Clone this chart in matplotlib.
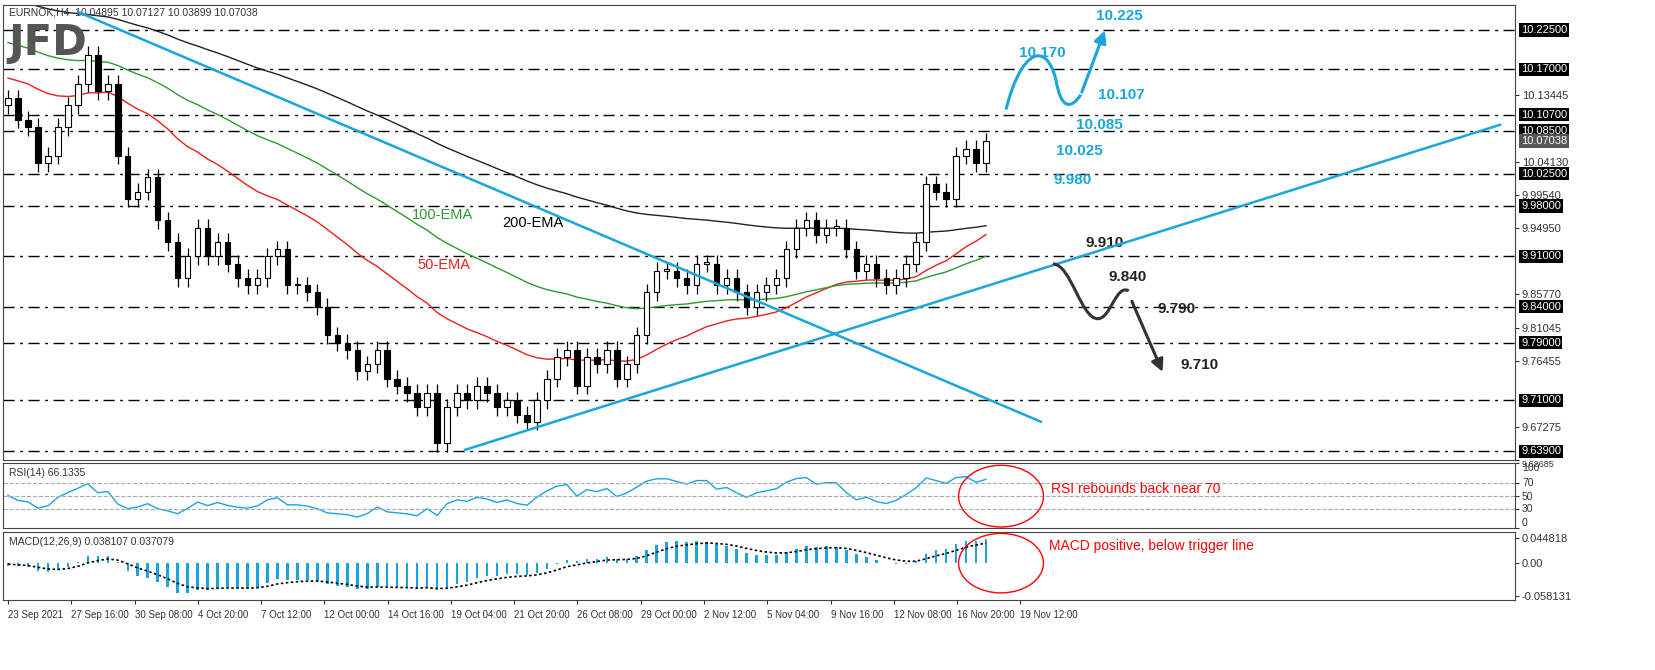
import numpy as np
import matplotlib
matplotlib.use("Agg")
import matplotlib.pyplot as plt
from matplotlib.patches import Ellipse, PathPatch
from matplotlib.path import Path
import matplotlib.transforms as mtrans

closes = [10.13,10.10,10.09,10.04,10.05,10.09,10.12,10.15,10.19,10.14,10.15,10.05,9.99,10.00,10.02,9.96,9.93,9.88,9.91,9.95,
          9.91,9.93,9.90,9.88,9.87,9.88,9.91,9.92,9.87,9.87,9.86,9.84,9.80,9.79,9.78,9.75,9.76,9.78,9.74,9.73,
          9.72,9.70,9.72,9.65,9.70,9.72,9.71,9.73,9.72,9.70,9.71,9.69,9.68,9.71,9.74,9.77,9.78,9.73,9.77,9.76,
          9.78,9.74,9.76,9.80,9.86,9.89,9.89,9.88,9.87,9.90,9.90,9.87,9.88,9.86,9.84,9.86,9.87,9.88,9.92,9.95,
          9.96,9.94,9.95,9.95,9.92,9.89,9.90,9.88,9.87,9.88,9.90,9.93,10.01,10.00,9.99,10.05,10.06,10.04,10.07]
open0 = 10.12
wick = 0.012
ema_spans = {"50": 29, "100": 57, "200": 115}
ema_init = {"50": 10.16, "100": 10.21, "200": 10.27}
ema_colors = {"50": "#e8201c", "100": "#2e9a2e", "200": "#222222"}

levels = [10.225, 10.17, 10.107, 10.085, 10.025, 9.98, 9.91, 9.84, 9.79, 9.71, 9.639]
plain_ticks = [10.13445, 10.04130, 9.99540, 9.94950, 9.85770, 9.81045, 9.76455, 9.67275, 9.62685]
last_price = 10.07038
date_labels = ["23 Sep 2021","27 Sep 16:00","30 Sep 08:00","4 Oct 20:00","7 Oct 12:00","12 Oct 00:00",
               "14 Oct 16:00","19 Oct 04:00","21 Oct 20:00","26 Oct 08:00","29 Oct 00:00","2 Nov 12:00",
               "5 Nov 04:00","9 Nov 16:00","12 Nov 08:00","16 Nov 20:00","19 Nov 12:00"]
down_tl_x = [7, 103.5]; down_tl_y = [10.25, 9.68]
up_tl_x = [45.8, 149.5]; up_tl_y = [9.641, 10.093]

closes = np.array(closes)
n = len(closes)
x = np.arange(n)
opens = np.r_[open0, closes[:-1]]
highs = np.maximum(opens, closes) + wick
lows = np.minimum(opens, closes) - wick

def ema(arr, span, init=None):
    a = 2/(span+1); out = []; v = arr[0] if init is None else init
    for c in arr:
        v = a*c + (1-a)*v; out.append(v)
    return np.array(out)

plt.rcParams['font.family'] = ['Liberation Sans', 'DejaVu Sans']
W, H = 1655, 670
fig = plt.figure(figsize=(16.55, 6.70), dpi=100)
def axrect(l, t, r, b):
    return [l/W, 1-b/H, (r-l)/W, (b-t)/H]
ax = fig.add_axes(axrect(3, 5, 1515, 460))
ar = fig.add_axes(axrect(3, 463, 1515, 528), sharex=ax)
am = fig.add_axes(axrect(3, 532, 1515, 600), sharex=ax)
CY = "#1aa6dc"

for i in range(n):
    ax.vlines(x[i], lows[i], highs[i], color="black", lw=0.9, zorder=3)
    up = closes[i] >= opens[i]
    b0 = min(opens[i], closes[i]); h = max(abs(closes[i]-opens[i]), 0.002)
    ax.bar(x[i], h, bottom=b0, width=0.55, color="white" if up else "black", edgecolor="black", lw=0.8, zorder=4)
for k in ema_spans:
    ax.plot(x, ema(closes, ema_spans[k], ema_init[k]), color=ema_colors[k], lw=1, zorder=2)
ax.plot(down_tl_x, down_tl_y, color=CY, lw=1.8, zorder=5)
ax.plot(up_tl_x, up_tl_y, color=CY, lw=1.8, zorder=5)
for lv in levels:
    ax.axhline(lv, color="black", lw=1, ls=(0, (8, 4, 2, 4)), zorder=1)

ax.set_xlim(-0.5, 151)
ax.set_ylim(9.6293, 10.2596)
ax.yaxis.tick_right()
ax.set_yticks(plain_ticks)
ax.set_yticklabels([f"{t:.5f}" for t in plain_ticks])
ax.tick_params(axis="y", labelsize=8, colors="#333333", length=3, pad=2)
ax.tick_params(axis="x", bottom=False, labelbottom=False)
lbl = ax.get_yticklabels()[-1]; lbl.set_va("top"); lbl.set_fontsize(6.5)
tr = mtrans.blended_transform_factory(ax.transAxes, ax.transData)
for lv in levels:
    ax.text(1.004, lv, f"{lv:.5f}", transform=tr, fontsize=8, color="white", va="center", ha="left",
            bbox=dict(boxstyle="square,pad=0.15", fc="black", ec="none"), zorder=10)
ax.text(1.004, last_price, f"{last_price:.5f}", transform=tr, fontsize=8, color="white", va="center", ha="left",
        bbox=dict(boxstyle="square,pad=0.15", fc="#555555", ec="none"), zorder=10)

def P(px, py):
    return ((px-5)/10, 10.225-(py-30)/722)
bold = dict(fontsize=11, fontweight="bold")
for t, (px, py) in {"10.225": (1095, 20), "10.170": (1018, 57), "10.107": (1097, 99), "10.085": (1075, 130),
                    "10.025": (1055, 156), "9.980": (1053, 185)}.items():
    ax.text(*P(px, py), t, color=CY, **bold)
for t, (px, py) in {"9.910": (1085, 248), "9.840": (1108, 282), "9.790": (1157, 314), "9.710": (1180, 370)}.items():
    ax.text(*P(px, py), t, color="#222222", **bold)
ax.text(*P(410, 220), "100-EMA", color="#2e9a2e", fontsize=10.5)
ax.text(*P(500, 228), "200-EMA", color="black", fontsize=10.5)
ax.text(*P(415, 270), "50-EMA", color="#e8201c", fontsize=10.5)
ax.text(0.004, 0.995, "EURNOK,H4  10.04895 10.07127 10.03899 10.07038", transform=ax.transAxes, fontsize=7.5,
        va="top", color="#333333")
fig.text(8/W, 1-55/H, "JFD", fontsize=30, fontweight="bold", color="#555555", family="DejaVu Sans")

def curve(pts, color):
    verts = [P(*p) for p in pts]
    codes = [Path.MOVETO] + [Path.CURVE4]*(len(verts)-1)
    ax.add_patch(PathPatch(Path(verts, codes), fc="none", ec=color, lw=2.2, zorder=6))
curve([(1005, 110), (1020, 50), (1045, 40), (1055, 80), (1060, 110), (1070, 110), (1080, 95)], CY)
ax.annotate("", xy=P(1105, 28), xytext=P(1080, 95), arrowprops=dict(arrowstyle="-|>", color=CY, lw=2.2, mutation_scale=18))
curve([(1052, 265), (1070, 265), (1080, 320), (1097, 320), (1110, 320), (1115, 285), (1128, 292)], "#333333")
ax.annotate("", xy=P(1163, 376), xytext=P(1130, 300), arrowprops=dict(arrowstyle="-|>", color="#333333", lw=2.2, mutation_scale=18))

d = np.diff(closes, prepend=closes[0])
g = ema(np.clip(d, 0, None), 14, 0.015); l = ema(np.clip(-d, 0, None), 14, 0.015)
rsi = 100 - 100/(1+g/np.maximum(l, 1e-9))
ar.plot(x, rsi, color=CY, lw=1)
for lv in [30, 50, 70]:
    ar.axhline(lv, color="#aaaaaa", lw=0.8, ls="--")
ar.set_ylim(0, 100)
ar.yaxis.tick_right(); ar.set_yticks([0, 30, 50, 70, 100])
ar.tick_params(axis="y", labelsize=7.5, colors="#333333", length=3, pad=2)
ar.tick_params(axis="x", bottom=False, labelbottom=False)
ar.get_yticklabels()[-1].set_va("top")
ar.get_yticklabels()[0].set_va("bottom")
ar.text(0.004, 0.93, "RSI(14) 66.1335", transform=ar.transAxes, fontsize=7.5, va="top", color="#333333")
ar.add_patch(Ellipse(((1000-5)/10, 49), 8.5, 95, fc="none", ec="red", lw=1, clip_on=False, zorder=10))
ar.text((1050-5)/10, 60, "RSI rebounds back near 70", color="red", fontsize=10, va="center")

macd = ema(closes, 7, closes[0]-0.03) - ema(closes, 15, closes[0]-0.02)
sig = ema(macd, 5, 0.0)
am.bar(x, macd, width=0.25, color=CY)
am.plot(x, sig, color="black", lw=1.2, ls=(0, (1.5, 1.5)))
am.set_ylim(-0.065, 0.055)
am.yaxis.tick_right(); am.set_yticks([0.044818, 0.0, -0.058131]); am.set_yticklabels(["0.044818", "0.00", "-0.058131"])
am.tick_params(axis="y", labelsize=8, colors="#333333", length=3, pad=2)
am.text(0.004, 0.93, "MACD(12,26,9) 0.038107 0.037079", transform=am.transAxes, fontsize=7.5, va="top", color="#333333")
am.add_patch(Ellipse(((1000-5)/10, 0.0), 8.5, 0.105, fc="none", ec="red", lw=1, clip_on=False, zorder=10))
am.text((1048-5)/10, 0.03, "MACD positive, below trigger line", color="red", fontsize=10, va="center")
am.set_xticks(np.arange(len(date_labels))*6.34)
am.set_xticklabels(date_labels, fontsize=7, ha="left")
am.tick_params(axis="x", length=3, colors="#333333", pad=4)
for a in (ax, ar, am):
    for s in a.spines.values():
        s.set_color("#444444"); s.set_linewidth(0.8)
fig.savefig("out.png", dpi=100)
